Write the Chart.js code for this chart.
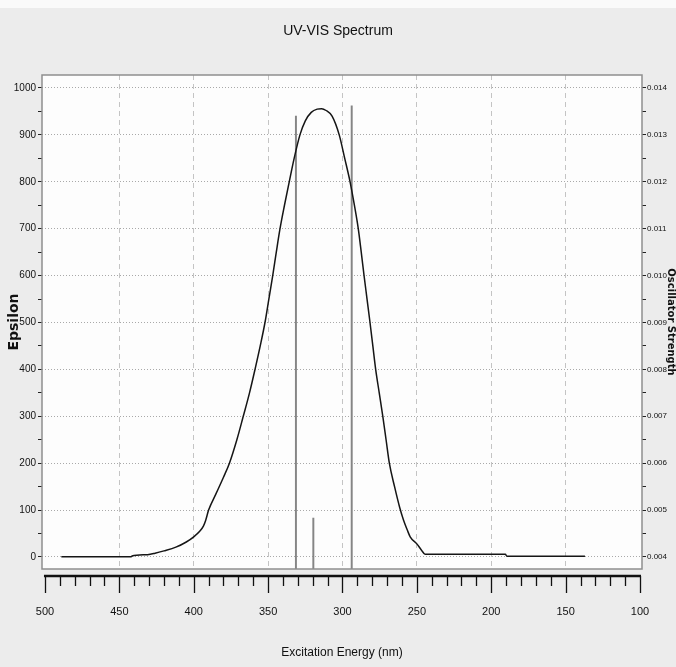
<!DOCTYPE html>
<html>
<head>
<meta charset="utf-8">
<title>UV-VIS Spectrum</title>
<script src="https://cdn.jsdelivr.net/npm/chart.js@4.4.1/dist/chart.umd.min.js"></script>
<style>
  html, body { margin: 0; padding: 0 }
  body { width: 676px; height: 667px; overflow: hidden; background: linear-gradient(#fafafa 0px, #fafafa 8px, #ececec 8px) }
  #wrap { position: relative; width: 676px; height: 667px }
</style>
</head>
<body>
<div id="wrap"><canvas id="chart_uvvis"></canvas></div>
<script>
// Spectrum (nm against epsilon), long wavelengths first
const wavelengths = [489, 442, 441.5, 431, 426, 420, 412, 405, 400, 396, 393.5, 392, 390, 385, 380, 376, 371, 366.7,
  362.5, 358.8, 355.3, 352.1, 349.5, 346.9, 344.5, 342, 339, 335.8, 332.5, 328.6, 325, 321, 317, 314, 311, 307,
  302.2, 298.5, 294.9, 292, 289.4, 287.4, 285.5, 283.5, 281.5, 279.6, 277.7, 275.3, 272.9, 270.7, 268.5, 265,
  261.5, 259, 256.5, 254.5, 250, 247, 244.5, 190.5, 189.5, 137]
const epsilon = [0.5, 0.5, 2, 5, 8, 13, 21, 32, 43, 55, 66, 78, 100, 135, 170, 200, 250, 300,
  350, 400, 450, 500, 550, 600, 650, 700, 750, 800, 850, 900, 930, 948, 955, 956, 952, 940,
  900, 850, 800, 750, 700, 650, 600, 550, 500, 450, 400, 350, 300, 250, 200, 150,
  105, 79, 58, 43, 28, 15, 6, 6, 1.5, 1.5]

// Oscillator strength sticks
const stickWavelengths = [331.3, 319.6, 293.8]
const stickStrengths = [0.0134, 0.00483, 0.01362]

// Tick labels
const xLabels = [500, 450, 400, 350, 300, 250, 200, 150, 100]
const epsilonLabels = [0, 100, 200, 300, 400, 500, 600, 700, 800, 900, 1000]
const strengthLabels = ['0.004', '0.005', '0.006', '0.007', '0.008', '0.009', '0.010', '0.011', '0.012', '0.013', '0.014']

const plain = "'Liberation Sans', Arial, sans-serif"
const wide = "'DejaVu Sans', sans-serif"

// labelled values plus one minor tick half way between each pair
function withMinorTicks(values) {
  const ticks = []
  for (let i = 0; i < values.length; i++) {
    ticks.push({ value: values[i] })
    if (i < values.length - 1) ticks.push({ value: (values[i] + values[i + 1]) / 2 })
  }
  return ticks
}

// white plot box, grey frame and the detached x axis with its minor ticks
const plotFrame = {
  id: 'plotFrame',
  beforeDraw(chart) {
    const { ctx, chartArea: a } = chart
    ctx.save()
    ctx.fillStyle = '#fdfdfd'
    ctx.fillRect(a.left, a.top, a.right - a.left, a.bottom - a.top)
    ctx.restore()
  },
  afterDraw(chart) {
    const { ctx, chartArea: a } = chart
    const x = chart.scales.x
    ctx.save()
    ctx.strokeStyle = '#8e8e8e'
    ctx.lineWidth = 1.5
    ctx.strokeRect(a.left, a.top, a.right - a.left, a.bottom - a.top)

    const axisY = a.bottom + 7
    const first = x.getPixelForValue(xLabels[0])
    const last = x.getPixelForValue(xLabels[xLabels.length - 1])
    ctx.strokeStyle = '#111'
    ctx.lineWidth = 2.5
    ctx.beginPath()
    ctx.moveTo(first - 1, axisY)
    ctx.lineTo(last + 1, axisY)
    ctx.stroke()

    ctx.lineWidth = 1.3
    ctx.beginPath()
    for (let v = xLabels[xLabels.length - 1]; v <= xLabels[0]; v += 10) {
      const px = Math.round(x.getPixelForValue(v)) + 0.5
      const len = xLabels.includes(v) ? 17 : 10
      ctx.moveTo(px, axisY)
      ctx.lineTo(px, axisY + len)
    }
    ctx.stroke()
    ctx.restore()
  }
}

const ctx = document.getElementById('chart_uvvis').getContext('2d')

new Chart(ctx, {
  type: 'line',
  data: {
    datasets: [{
      label: 'Epsilon',
      data: wavelengths.map((w, i) => ({ x: w, y: epsilon[i] })),
      yAxisID: 'y',
      borderColor: '#151515',
      borderWidth: 1.5,
      pointRadius: 0,
      cubicInterpolationMode: 'monotone',
      order: 0
    }, {
      type: 'bar',
      label: 'Oscillator Strength',
      data: stickWavelengths.map((w, i) => ({ x: w, y: stickStrengths[i] })),
      yAxisID: 'y2',
      backgroundColor: '#858585',
      barThickness: 1.3,
      clip: 0,
      order: 1
    }]
  },
  options: {
    responsive: true,
    maintainAspectRatio: false,
    animation: false,
    events: [],
    layout: { padding: 0 },
    plugins: {
      legend: { display: false },
      tooltip: { enabled: false },
      title: {
        display: true,
        text: 'UV-VIS Spectrum',
        color: '#111',
        font: { family: plain, size: 14, weight: 'normal' },
        padding: { top: 23, bottom: 35.2 }
      }
    },
    scales: {
      x: {
        type: 'linear',
        reverse: true,
        min: 98.66,
        max: 502,
        offset: false,
        afterBuildTicks: scale => { scale.ticks = xLabels.map(v => ({ value: v })) },
        afterFit: scale => {
          scale.height = 98
          scale.paddingLeft = 0
          scale.paddingRight = 0
        },
        ticks: { color: '#111', padding: 36, maxRotation: 0, font: { family: plain, size: 11 } },
        grid: {
          offset: false,
          drawTicks: false,
          lineWidth: 1,
          color: c => (c.tick && (c.tick.value === 500 || c.tick.value === 100)) ? 'rgba(0,0,0,0)' : '#c4c4c4'
        },
        border: { display: false, dash: [5, 4] },
        title: {
          display: true,
          text: 'Excitation Energy (nm)',
          color: '#111',
          font: { family: plain, size: 12 },
          padding: { top: 0, bottom: 7 }
        }
      },
      y: {
        position: 'left',
        min: -25.6,
        max: 1027.7,
        afterBuildTicks: scale => { scale.ticks = withMinorTicks(epsilonLabels) },
        afterFit: scale => { scale.width = 42 },
        ticks: {
          color: '#111',
          padding: 2,
          font: { family: plain, size: 10 },
          callback: value => epsilonLabels.includes(value) ? value : ''
        },
        grid: {
          tickLength: 4,
          tickColor: '#222',
          lineWidth: 1,
          color: c => (c.tick && epsilonLabels.includes(c.tick.value)) ? '#a9a9a9' : 'rgba(0,0,0,0)'
        },
        border: { display: false, dash: [1, 2] },
        title: {
          display: true,
          text: 'Epsilon',
          color: '#111',
          font: { family: wide, size: 14, weight: 'bold', lineHeight: 1 },
          padding: { top: 7, bottom: 0 }
        }
      },
      y2: {
        position: 'right',
        min: 0.003744,
        max: 0.014277,
        afterBuildTicks: scale => { scale.ticks = withMinorTicks(strengthLabels.map(Number)) },
        afterFit: scale => { scale.width = 34 },
        ticks: {
          color: '#111',
          padding: 1,
          font: { family: plain, size: 8 },
          callback: value => {
            const s = value.toFixed(3)
            return (strengthLabels.includes(s) && Math.abs(Number(s) - value) < 1e-7) ? s : ''
          }
        },
        grid: { drawOnChartArea: false, tickLength: 4, tickColor: '#222' },
        border: { display: false },
        title: {
          display: true,
          text: 'Oscillator Strength',
          color: '#111',
          font: { family: wide, size: 10, weight: 'bold', lineHeight: 1 },
          padding: { top: 0, bottom: 0 }
        }
      }
    }
  },
  plugins: [plotFrame]
})
</script>
</body>
</html>
